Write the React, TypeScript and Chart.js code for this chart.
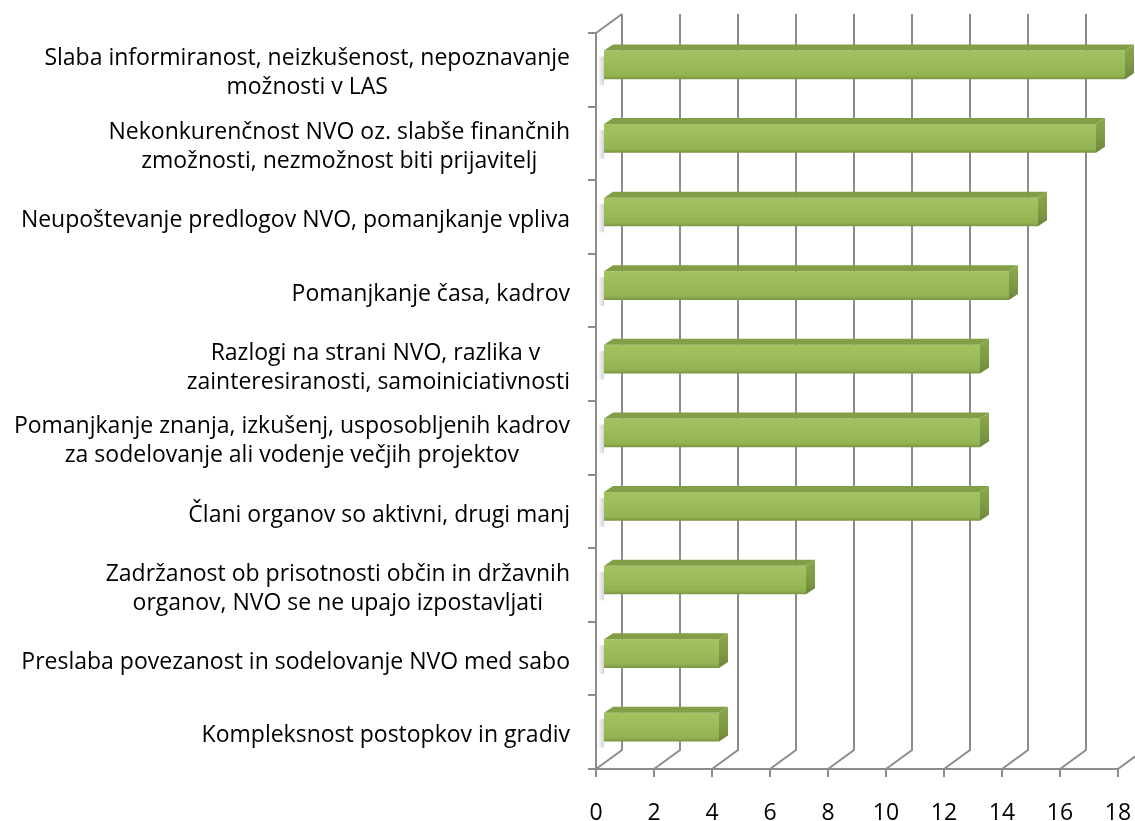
import React, { useEffect, useRef } from "react";
import { Chart, registerables } from "chart.js";

Chart.register(...registerables);

const categories: string[][] = [
  ["Slaba informiranost, neizkušenost, nepoznavanje", "možnosti v LAS"],
  ["Nekonkurenčnost NVO oz. slabše finančnih", "zmožnosti, nezmožnost biti prijavitelj"],
  ["Neupoštevanje predlogov NVO, pomanjkanje vpliva"],
  ["Pomanjkanje časa, kadrov"],
  ["Razlogi na strani NVO, razlika v ", "zainteresiranosti, samoiniciativnosti"],
  ["Pomanjkanje znanja, izkušenj, usposobljenih kadrov", "za sodelovanje ali vodenje večjih projektov"],
  ["Člani organov so aktivni, drugi manj"],
  ["Zadržanost ob prisotnosti občin in državnih", "organov, NVO se ne upajo izpostavljati"],
  ["Preslaba povezanost in sodelovanje NVO med sabo"],
  ["Kompleksnost postopkov in gradiv"],
];

const values: number[] = [18, 17, 15, 14, 13, 13, 13, 7, 4, 4];

const xMin = 0;
const xMax = 18;
const xStep = 2;

const FONT = "'Open Sans', 'Noto Sans', sans-serif";
const FONT_SIZE = 23;
const GRID = "#8c8c8c";
const DX = 26;
const DY = -19;
const BDX = 7;
const BDY = -5;
const DEPTH_X = 9;
const DEPTH_Y = -6;

const ok = (...n: number[]) => n.every((v) => Number.isFinite(v));

const frame3d = {
  id: "frame3d",
  beforeDatasetsDraw(chart: any) {
    const { ctx, chartArea, scales } = chart;
    const { left, top, bottom } = chartArea;
    const x = scales.x;
    ctx.save();
    ctx.strokeStyle = GRID;
    ctx.lineWidth = 2;
    ctx.beginPath();
    x.ticks.forEach((t: any) => {
      const px = Math.round(x.getPixelForValue(t.value));
      ctx.moveTo(px, bottom);
      ctx.lineTo(px + DX, bottom + DY);
      ctx.lineTo(px + DX, top + DY);
    });
    ctx.moveTo(left, top);
    ctx.lineTo(left + DX, top + DY);
    ctx.stroke();
    ctx.restore();

    const meta = chart.getDatasetMeta(0);
    ctx.save();
    meta.data.forEach((el: any) => {
      const x0 = el.base + BDX;
      const yt = el.y - el.height / 2 + BDY;
      if (!ok(x0, yt, el.height)) return;
      const g = ctx.createLinearGradient(x0 - 6, 0, x0, 0);
      g.addColorStop(0, "rgba(0,0,0,0)");
      g.addColorStop(1, "rgba(0,0,0,0.18)");
      ctx.fillStyle = g;
      ctx.fillRect(x0 - 6, yt + 6, 6, el.height);
    });
    ctx.restore();

    ctx.save();
    ctx.translate(BDX, BDY);
  },
  afterDatasetsDraw(chart: any) {
    const { ctx } = chart;
    ctx.restore();
    const meta = chart.getDatasetMeta(0);
    ctx.save();
    meta.data.forEach((el: any) => {
      const x0 = el.base + BDX;
      const x1 = el.x + BDX;
      const yt = el.y - el.height / 2 + BDY;
      const yb = yt + el.height;
      if (!ok(x0, x1, yt, yb)) return;
      ctx.beginPath();
      ctx.moveTo(x0, yt);
      ctx.lineTo(x0 + DEPTH_X, yt + DEPTH_Y);
      ctx.lineTo(x1 + DEPTH_X, yt + DEPTH_Y);
      ctx.lineTo(x1, yt);
      ctx.closePath();
      ctx.fillStyle = "#829f48";
      ctx.fill();
      const g = ctx.createLinearGradient(0, yt + DEPTH_Y, 0, yb);
      g.addColorStop(0, "#8aa84d");
      g.addColorStop(0.6, "#7d9944");
      g.addColorStop(1, "#6b853a");
      ctx.beginPath();
      ctx.moveTo(x1, yt);
      ctx.lineTo(x1 + DEPTH_X, yt + DEPTH_Y);
      ctx.lineTo(x1 + DEPTH_X, yb + DEPTH_Y);
      ctx.lineTo(x1, yb);
      ctx.closePath();
      ctx.fillStyle = g;
      ctx.fill();
    });
    ctx.restore();
  },
  afterDraw(chart: any) {
    const { ctx, scales } = chart;
    const y = scales.y;
    const rightEdge = 570;
    const lineH = 29;
    ctx.save();
    ctx.font = `${FONT_SIZE}px ${FONT}`;
    ctx.fillStyle = "#000000";
    ctx.textAlign = "center";
    ctx.textBaseline = "alphabetic";
    const capH = FONT_SIZE * 0.71;
    categories.forEach((lines, i) => {
      const c = y.getPixelForValue(i) + 2;
      const w = Math.max(...lines.map((l) => ctx.measureText(l).width));
      const cx = rightEdge - w / 2;
      const n = lines.length;
      lines.forEach((l, k) => {
        const cy = c + (k - (n - 1) / 2) * lineH;
        ctx.fillText(l, cx, cy + capH / 2);
      });
    });
    ctx.restore();
  },
};

export default function App() {
  const ref = useRef<HTMLCanvasElement | null>(null);
  useEffect(() => {
    if (!ref.current) return;
    const chart = new Chart(ref.current, {
      type: "bar",
      data: {
        labels: categories.map((c) => c.join(" ")),
        datasets: [
          {
            data: values,
            backgroundColor: (c: any) => {
              const ch = c.chart;
              const ys = ch.scales && ch.scales.y;
              if (!ys || c.dataIndex === undefined) return "#9bbb59";
              const yc = ys.getPixelForValue(c.dataIndex);
              if (!ok(yc)) return "#9bbb59";
              const h = 28;
              const g = ch.ctx.createLinearGradient(0, yc - h / 2, 0, yc + h / 2);
              g.addColorStop(0, "#a3c262");
              g.addColorStop(0.5, "#9bbb59");
              g.addColorStop(0.88, "#93b252");
              g.addColorStop(1, "#7b9743");
              return g;
            },
            borderWidth: 0,
            barPercentage: 0.95,
            categoryPercentage: 0.41,
            clip: false as any,
          },
        ],
      },
      options: {
        indexAxis: "y",
        animation: false,
        responsive: false,
        events: [],
        layout: { padding: { top: 33, right: 17, left: 0, bottom: 0 } },
        plugins: { legend: { display: false }, tooltip: { enabled: false } },
        scales: {
          x: {
            min: xMin,
            max: xMax,
            ticks: {
              stepSize: xStep,
              color: "#000000",
              font: { family: FONT, size: FONT_SIZE },
              padding: 23,
              maxRotation: 0,
            },
            grid: {
              drawOnChartArea: false,
              drawTicks: true,
              tickLength: 8,
              color: GRID,
              lineWidth: 2,
            },
            border: { display: true, color: GRID, width: 2 },
            afterFit: (s: any) => {
              s.height = 52;
              s.paddingLeft = 0;
              s.paddingRight = 0;
            },
          },
          y: {
            ticks: { display: false },
            grid: {
              offset: true,
              drawOnChartArea: false,
              drawTicks: true,
              tickLength: 8,
              color: GRID,
              lineWidth: 2,
            },
            border: { display: true, color: GRID, width: 2 },
            afterFit: (s: any) => {
              s.width = 596;
              s.paddingTop = 0;
              s.paddingBottom = 0;
            },
          },
        },
      },
      plugins: [frame3d],
    } as any);
    return () => chart.destroy();
  }, []);
  return (
    <div style={{ position: "fixed", left: 0, top: 0, width: 1135, height: 821, background: "#ffffff" }}>
      <canvas ref={ref} width={1135} height={821} style={{ display: "block" }} />
    </div>
  );
}
